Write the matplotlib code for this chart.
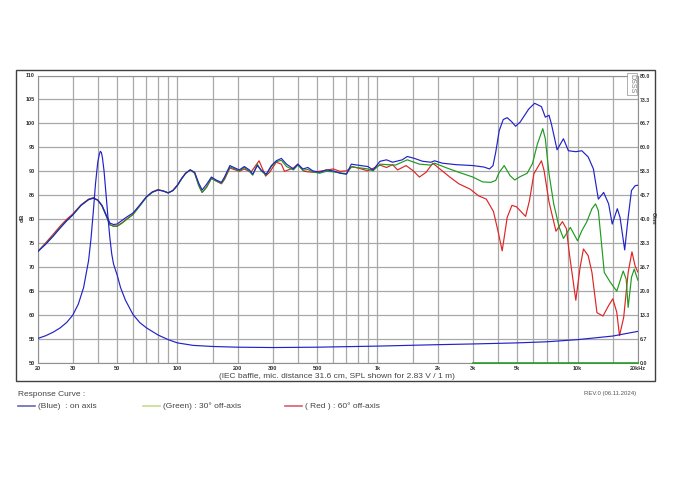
import matplotlib
matplotlib.use("Agg")
import matplotlib.pyplot as plt
from matplotlib.lines import Line2D
from matplotlib.patches import Rectangle
from matplotlib.ticker import FixedLocator, NullFormatter

plt.rcParams['font.family'] = ['Liberation Sans', 'DejaVu Sans']

# ---------------- data ----------------
blue_f = [20, 22, 24, 26, 28, 30, 33, 36, 38, 40, 42, 44, 46, 48, 50, 53, 56, 60, 65, 70, 75, 80, 85, 90, 95,
          100, 105, 110, 116, 122, 128, 133, 140, 148, 156, 166, 172, 183, 194, 204, 216, 229, 238, 251, 262,
          278, 295, 312, 331, 351, 380, 400, 424, 449, 475, 513, 555, 600, 650, 700, 740, 825, 895, 950, 1030,
          1110, 1190, 1330, 1410, 1530, 1680, 1850, 1930, 2110, 2460, 3000, 3400, 3630, 3780, 3900, 4060, 4250,
          4450, 4700, 4900, 5170, 5700, 6100, 6600, 6900, 7200, 7400, 7900, 8500, 9000, 9800, 10500, 11300,
          12000, 12700, 13500, 14300, 14900, 15800, 16300, 17200, 17900, 18600, 19400, 20000]
blue_db = [73.2, 74.8, 76.5, 78.2, 79.7, 80.9, 82.9, 84.1, 84.4, 84.0, 82.9, 81.0, 79.2, 78.9, 79.0, 79.8, 80.5,
           81.3, 83.0, 84.7, 85.7, 86.1, 85.9, 85.5, 86.0, 87.1, 88.5, 89.6, 90.3, 89.8, 87.5, 86.1, 87.3, 88.8,
           88.2, 87.7, 88.8, 91.2, 90.7, 90.3, 91.0, 90.3, 89.4, 91.2, 90.3, 89.4, 91.2, 92.2, 92.7, 91.5, 90.5,
           91.5, 90.5, 90.8, 90.1, 89.8, 90.3, 90.1, 89.6, 89.4, 91.5, 91.2, 91.0, 90.3, 92.1, 92.4, 91.9, 92.4,
           93.1, 92.7, 92.1, 91.9, 92.2, 91.7, 91.4, 91.2, 90.9, 90.5, 91.2, 94.0, 98.5, 100.8, 101.2, 100.3,
           99.4, 100.3, 103.0, 104.2, 103.5, 101.3, 101.7, 99.9, 94.5, 96.8, 94.3, 94.1, 94.3, 93.0, 90.5, 84.2,
           85.6, 83.2, 79.0, 82.2, 80.4, 73.6, 80.4, 86.0, 87.0, 87.1]

green_f = [20, 22, 24, 26, 28, 30, 33, 36, 38, 40, 42, 44, 46, 48, 50, 53, 56, 60, 65, 70, 75, 80, 85, 90, 95,
           100, 105, 110, 116, 122, 128, 133, 140, 148, 156, 166, 172, 183, 194, 204, 216, 229, 238, 251, 262,
           278, 295, 312, 331, 351, 380, 400, 424, 449, 475, 513, 555, 600, 650, 700, 740, 825, 895, 950, 1030,
           1110, 1230, 1410, 1620, 1850, 1930, 2190, 2550, 3000, 3350, 3690, 3900, 4060, 4300, 4600, 4850, 5170,
           5600, 5950, 6300, 6700, 6900, 7200, 7600, 8100, 8500, 9200, 10000, 10500, 11100, 11800, 12300, 12700,
           13600, 14600, 15700, 16900, 17500, 17900, 18600, 19200, 20000]
green_db = [73.2, 74.9, 76.6, 78.3, 79.7, 80.9, 82.9, 84.1, 84.4, 84.0, 82.8, 80.8, 78.9, 78.5, 78.5, 79.2, 80.0,
            81.0, 82.8, 84.6, 85.6, 86.1, 85.9, 85.5, 86.0, 87.0, 88.4, 89.6, 90.3, 89.6, 87.0, 85.6, 86.7, 88.5,
            88.0, 87.5, 88.5, 90.9, 90.5, 90.1, 90.8, 90.0, 89.2, 91.5, 90.1, 89.2, 91.0, 92.0, 92.3, 91.0, 90.3,
            91.3, 90.2, 90.4, 89.9, 89.6, 90.0, 89.9, 89.7, 89.5, 90.9, 90.7, 90.5, 90.1, 91.5, 91.4, 91.3, 92.4,
            91.5, 91.3, 91.7, 90.8, 89.8, 88.8, 87.8, 87.7, 88.1, 89.8, 91.2, 89.1, 88.2, 88.9, 89.6, 91.6, 95.7,
            98.9, 96.8, 89.5, 83.2, 78.3, 76.0, 78.3, 75.5, 77.6, 79.4, 82.2, 83.2, 81.8, 68.9, 66.8, 65.0, 69.2,
            67.5, 61.6, 67.9, 69.6, 67.3]

red_f = [20, 22, 24, 26, 28, 30, 33, 36, 38, 40, 42, 44, 46, 48, 50, 53, 56, 60, 65, 70, 75, 80, 85, 90, 95,
         100, 105, 110, 116, 122, 128, 133, 140, 148, 156, 166, 172, 183, 204, 216, 233, 256, 276, 289, 312, 331,
         343, 380, 400, 430, 475, 530, 600, 650, 700, 750, 830, 895, 1030, 1110, 1190, 1260, 1390, 1510, 1620,
         1750, 1890, 2050, 2300, 2550, 2900, 3200, 3500, 3800, 4000, 4200, 4450, 4700, 4950, 5300, 5500, 5750,
         6050, 6600, 6800, 7200, 7800, 8400, 8800, 9100, 9800, 10300, 10700, 11300, 11800, 12500, 13400, 14300,
         15000, 15700, 16200, 17000, 17900, 18700, 19400, 20000]
red_db = [73.2, 75.1, 76.9, 78.6, 80.0, 81.1, 83.0, 84.2, 84.5, 84.0, 82.8, 80.8, 78.8, 78.6, 78.6, 79.3, 80.1,
          81.0, 82.9, 84.6, 85.7, 86.2, 85.9, 85.5, 86.0, 87.1, 88.5, 89.6, 90.3, 89.7, 87.0, 85.6, 86.7, 88.6,
          88.0, 87.4, 88.3, 90.7, 90.0, 90.5, 89.8, 92.2, 89.0, 89.8, 91.9, 91.5, 90.0, 90.7, 91.5, 90.0, 89.8,
          90.1, 90.5, 90.0, 90.1, 91.0, 90.5, 90.1, 91.3, 90.8, 91.4, 90.3, 91.2, 90.1, 88.8, 89.8, 91.7, 90.5,
          88.8, 87.4, 86.3, 84.9, 84.2, 81.6, 77.6, 73.4, 80.4, 82.9, 82.6, 81.3, 80.6, 83.9, 89.5, 92.2, 90.2,
          83.6, 77.5, 79.5, 78.0, 72.8, 63.1, 70.0, 73.8, 72.4, 68.9, 60.5, 59.8, 62.0, 63.4, 60.6, 55.7, 59.5,
          68.9, 73.2, 70.2, 69.0]

imp_f = [20, 22, 24, 26, 28, 30, 32, 34, 36, 37, 38, 39, 40, 40.7, 41.2, 41.7, 42.2, 43, 44, 45, 46, 47, 48, 50,
         52, 55, 60, 65, 70, 80, 90, 100, 120, 150, 200, 300, 500, 1000, 2000, 3000, 5000, 7000, 10000, 15000,
         20000]
imp_ohm = [6.8, 7.6, 8.6, 9.8, 11.3, 13.3, 16.4, 21.0, 28.5, 34.5, 42.0, 50.0, 55.8, 58.0, 58.9, 58.6, 57.2,
           53.5, 47.0, 40.5, 34.8, 30.3, 27.5, 24.5, 21.0, 17.5, 13.5, 11.2, 9.8, 7.8, 6.5, 5.6, 4.9, 4.6, 4.4,
           4.3, 4.4, 4.7, 5.1, 5.3, 5.6, 5.9, 6.5, 7.5, 8.8]

green_imp_f = [3000, 20000]
green_imp_ohm = [0.0, 0.0]

freq_ticks = [20, 30, 50, 100, 200, 300, 500, 1000, 2000, 3000, 5000, 10000, 20000]
freq_labels = ['20', '30', '50', '100', '200', '300', '500', '1k', '2k', '3k', '5k', '10k', '20kHz']
db_ticks = [50, 55, 60, 65, 70, 75, 80, 85, 90, 95, 100, 105, 110]
ohm_ticks = [0.0, 6.7, 13.3, 20.0, 26.7, 33.3, 40.0, 46.7, 53.3, 60.0, 66.7, 73.3, 80.0]
grid_freqs = [20, 30, 40, 50, 60, 70, 80, 90, 100, 150, 200, 300, 400, 500, 600, 700, 800, 900, 1000,
              1500, 2000, 3000, 4000, 5000, 6000, 7000, 8000, 9000, 10000, 15000, 20000]

# ---------------- figure ----------------
fig = plt.figure(figsize=(6.76, 4.80), dpi=100)
fig.patch.set_facecolor('white')

# outer frame
fig.add_artist(Rectangle((16 / 676, 1 - 381 / 480), 639 / 676, 311 / 480, transform=fig.transFigure,
                         fill=False, edgecolor='#404040', linewidth=1.0))

ax = fig.add_axes([37.5 / 676, 1 - 363 / 480, 600.3 / 676, 287.5 / 480])
ax.set_xscale('log')
ax.set_xlim(20, 20000)
ax.set_ylim(50, 110)

grid_c = '#a8a8a8'
for g in grid_freqs:
    ax.axvline(g, color=grid_c, lw=0.9, zorder=0)
for d in db_ticks:
    ax.axhline(d, color=grid_c, lw=0.9, zorder=0)

ax.xaxis.set_major_locator(FixedLocator(freq_ticks))
ax.set_xticklabels(freq_labels)
ax.xaxis.set_minor_formatter(NullFormatter())
ax.xaxis.set_minor_locator(FixedLocator([]))
ax.set_yticks(db_ticks)
ax.set_yticklabels([str(v) for v in db_ticks])
ax.tick_params(axis='both', length=0, labelsize=4, colors='#333333', pad=2)
for lab in ax.get_xticklabels() + ax.get_yticklabels():
    lab.set_fontweight('bold')
for s in ax.spines.values():
    s.set_color('#909090')
    s.set_linewidth(0.8)

blue_c = '#2222c8'
green_c = '#1f9a1f'
red_c = '#e02424'
lw = 0.85
ax.plot(red_f, red_db, color=red_c, lw=lw, zorder=3)
ax.plot(green_f, green_db, color=green_c, lw=lw, zorder=4)
ax.plot(blue_f, blue_db, color=blue_c, lw=lw, zorder=5)

ax2 = ax.twinx()
ax2.set_ylim(0, 80)
ax2.set_yticks(ohm_ticks)
ax2.set_yticklabels(['%.1f' % v for v in ohm_ticks])
ax2.tick_params(axis='y', length=0, labelsize=3.8, colors='#333333', pad=1.5)
for lab in ax2.get_yticklabels():
    lab.set_fontweight('bold')
for s in ax2.spines.values():
    s.set_visible(False)
ax2.plot(imp_f, imp_ohm, color=blue_c, lw=lw, zorder=5)
ax2.plot(green_imp_f, green_imp_ohm, color=green_c, lw=1.1, zorder=5, clip_on=False)

fig.text(22 / 676, 1 - 218 / 480, 'dB', rotation=90, fontsize=4.5, fontweight='bold',
         color='#333333', ha='center', va='center')
fig.text(653 / 676, 1 - 218 / 480, 'Ohm', rotation=270, fontsize=4, fontweight='bold',
         color='#333333', ha='center', va='center')

# logo
fig.text(632 / 676, 1 - 84 / 480, 'DSSS', rotation=270, fontsize=5, color='#808080',
         ha='center', va='center',
         bbox=dict(boxstyle='square,pad=0.15', fc='white', ec='#909090', lw=0.5))

# caption
fig.text(337 / 676, 1 - 376 / 480, '(IEC baffle, mic. distance 31.6 cm, SPL shown for 2.83 V / 1 m)',
         fontsize=6, color='#444444', ha='center', va='center')

# legend area
fig.text(18 / 676, 1 - 394 / 480, 'Response Curve :', fontsize=6, color='#444444', ha='left', va='center')
fig.text(636 / 676, 1 - 393 / 480, 'REV.0 (06.11.2024)', fontsize=4.3, color='#555555', ha='right', va='center')

leg_y = 1 - 406 / 480
entries = [(18, 35, 38, '#6868b0', '(Blue)  : on axis'),
           (143, 160, 163, '#c8dc8c', '(Green) : 30° off-axis'),
           (285, 302, 305, '#d86070', '( Red ) : 60° off-axis')]
for x0, x1, xt, c, t in entries:
    fig.add_artist(Line2D([x0 / 676, x1 / 676], [leg_y, leg_y], transform=fig.transFigure, color=c, lw=1.2))
    fig.text(xt / 676, leg_y, t, fontsize=6, color='#444444', ha='left', va='center')

fig.savefig('out.png', dpi=100)
